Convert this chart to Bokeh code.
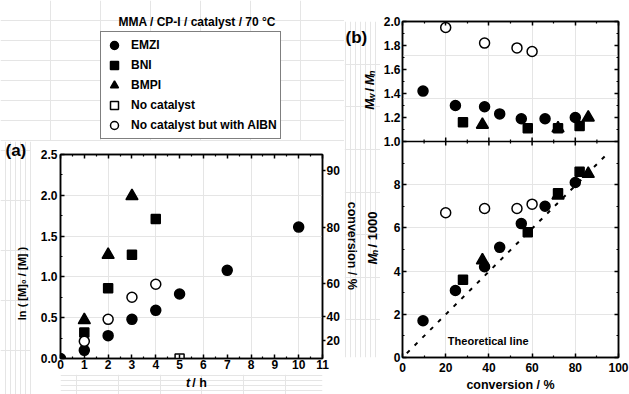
import math
from bokeh.plotting import figure
from bokeh.layouts import row, column
from bokeh.models import (Range1d, LinearAxis, FixedTicker, PrintfTickFormatter,
                          Label, Legend, LegendItem, Span)
from bokeh.embed import file_html
from bokeh.resources import INLINE

FONT = "Liberation Sans"

# ---------------- data: panel (a) kinetics ----------------
t_emzi = [0, 1, 2, 3, 4, 5, 7, 10]
ln_emzi = [0.0, 0.10, 0.28, 0.48, 0.59, 0.79, 1.08, 1.61]
t_bni = [1, 2, 3, 4]
ln_bni = [0.32, 0.86, 1.27, 1.71]
t_bmpi = [1, 2, 3]
ln_bmpi = [0.47, 1.27, 1.99]
t_nocat = [5]
ln_nocat = [0.0]
t_aibn = [1, 2, 3, 4]
ln_aibn = [0.21, 0.48, 0.75, 0.91]

# ---------------- data: panel (b) ----------------
conv_emzi = [9.5, 24.5, 38, 45, 55, 66, 80]
pdi_emzi = [1.42, 1.30, 1.29, 1.23, 1.19, 1.19, 1.20]
mn_emzi = [1.7, 3.1, 4.2, 5.1, 6.2, 7.0, 8.1]
conv_bni = [28, 58, 72, 82]
pdi_bni = [1.16, 1.11, 1.11, 1.13]
mn_bni = [3.6, 5.8, 7.6, 8.6]
conv_bmpi = [37, 72, 86]
pdi_bmpi = [1.14, 1.11, 1.20]
mn_bmpi = [4.5, 7.5, 8.5]
conv_aibn = [20, 38, 53, 60]
pdi_aibn = [1.95, 1.82, 1.78, 1.75]
mn_aibn = [6.7, 6.9, 6.9, 7.1]
theo_conv = [2, 95]
theo_mn = [0.2, 9.45]

# ---------------- ticks ----------------
a_xticks = list(range(0, 12))
a_xminor = [i + 0.5 for i in range(0, 11)]
a_yticks = [0.0, 0.5, 1.0, 1.5, 2.0, 2.5]
a_yminor = [0.25, 0.75, 1.25, 1.75, 2.25]
a_conv_ticks = [20, 40, 60, 80, 90]
b_xticks = [0, 20, 40, 60, 80, 100]
b_xminor = [10, 30, 50, 70, 90]
pdi_ticks = [1.0, 1.2, 1.4, 1.6, 1.8, 2.0]
pdi_minor = [1.1, 1.3, 1.5, 1.7, 1.9]
mn_ticks = [0, 2, 4, 6, 8]
mn_minor = [1, 3, 5, 7, 9]

legend_labels = ["EMZI", "BNI", "BMPI", "No catalyst", "No catalyst but with AIBN"]

W_B = {'M': .833, 'w': .778, 'n': .611, ' ': .278, '/': .278, '1': .556,
       '0': .556, 't': .333, 'h': .611}


def tw(s, size):
    return sum(W_B.get(ch, .556) for ch in s) * size


def base_fig(w, h, xr, yr, ml, mr, mt, mb):
    p = figure(width=w, height=h, x_range=xr, y_range=yr, output_backend="svg",
               toolbar_location=None, min_border_left=ml, min_border_right=mr,
               min_border_top=mt, min_border_bottom=mb,
               x_axis_location=None, y_axis_location=None, title_location=None)
    p.outline_line_color = "black"
    p.outline_line_width = 1.5
    p.background_fill_color = "white"
    p.border_fill_color = "white"
    return p


def text_fig(x0, x1, y0, y1):
    """A blank strip of the page, addressed in page pixels (y grows downward)."""
    p = figure(width=x1 - x0, height=y1 - y0, x_range=Range1d(x0, x1),
               y_range=Range1d(y1, y0), output_backend="svg", toolbar_location=None,
               min_border=0, x_axis_location=None, y_axis_location=None,
               title_location=None)
    p.outline_line_color = None
    p.background_fill_color = "white"
    p.border_fill_color = "white"
    return p


def add_axis(p, side, ticks, minor, labels=True, fmt=None, standoff=3,
             tick_in=4, tick_out=0, minor_in=2, overrides=None):
    ax = LinearAxis(ticker=FixedTicker(ticks=ticks, minor_ticks=minor))
    if fmt is not None:
        ax.formatter = PrintfTickFormatter(format=fmt)
    ax.axis_line_color = "black"
    ax.axis_line_width = 1.5
    ax.major_tick_line_color = "black"
    ax.major_tick_line_width = 1.5
    ax.major_tick_in = tick_in
    ax.major_tick_out = tick_out
    ax.minor_tick_line_color = "black"
    ax.minor_tick_line_width = 1.2
    ax.minor_tick_in = minor_in
    ax.minor_tick_out = 0
    ax.major_label_text_font = FONT
    ax.major_label_text_font_style = "bold"
    ax.major_label_text_font_size = "12px"
    ax.major_label_text_color = "black"
    ax.major_label_standoff = standoff
    if overrides:
        ax.major_label_overrides = overrides
    if not labels:
        ax.major_label_text_font_size = "0px"
        ax.major_label_text_color = None
        ax.major_label_standoff = 0
    p.add_layout(ax, side)
    return ax


def lab(p, x, y, text, size, style="bold", align="left", baseline="middle", angle=0.0):
    p.add_layout(Label(x=x, y=y, text=text, angle=angle, text_align=align,
                       text_baseline=baseline, text_font=FONT,
                       text_font_size=f"{size}px", text_font_style=style,
                       text_color="black"))


def compose(p, pieces, cx, cy, angle, sub=2.5):
    """Pieces of a label with italics/subscripts, on a page-pixel strip."""
    total = sum(tw(t, s) for t, s, _, _ in pieces)
    pos = -total / 2
    for text, size, style, is_sub in pieces:
        lead = len(text) - len(text.lstrip())
        trail = len(text) - len(text.rstrip())
        core = text.strip()
        pos += lead * W_B[' '] * size
        if angle == 0:
            lx, ly = cx + pos, cy + (sub if is_sub else 0)
        else:
            lx, ly = cx + (sub if is_sub else 0), cy - pos
        lab(p, lx, ly, core, size, style=style, baseline="alphabetic", angle=angle)
        pos += tw(core, size) + trail * W_B[' '] * size


def pts(p, x, y, marker, size, filled=True, **kw):
    return p.scatter(x, y, marker=marker, size=size,
                     fill_color="black" if filled else "white",
                     line_color="black", line_width=1.5, **kw)


# ================= legend / title strip (top left) =================
L0 = text_fig(0, 344, 0, 141)
# legend swatches: the panel (a) series on a scale that lies off this strip
L0.extra_x_ranges = {"off": Range1d(1000, 1344)}
lab(L0, 196.7, 21, "MMA / CP-I / catalyst / 70 °C", 12, align="center")
proxies = [pts(L0, t_emzi, ln_emzi, "circle", 10, x_range_name="off"),
           pts(L0, t_bni, ln_bni, "square", 9, x_range_name="off"),
           pts(L0, t_bmpi, ln_bmpi, "triangle", 12, x_range_name="off"),
           pts(L0, t_nocat, ln_nocat, "square", 9, False, x_range_name="off"),
           pts(L0, t_aibn, ln_aibn, "circle", 10, False, x_range_name="off")]
legend = Legend(items=[LegendItem(label=l, renderers=[r])
                       for l, r in zip(legend_labels, proxies)],
                location=(100, 2))
legend.margin = 0
legend.padding = 3
legend.spacing = 0
legend.glyph_width = 20
legend.glyph_height = 20
legend.label_height = 20
legend.label_standoff = 7
legend.label_text_font = FONT
legend.label_text_font_style = "bold"
legend.label_text_font_size = "12px"
legend.label_text_color = "black"
legend.border_line_color = "black"
legend.border_line_width = 1.5
legend.background_fill_color = "white"
legend.background_fill_alpha = 1.0
L0.add_layout(legend)

# ================= panel (a) =================
pa = base_fig(313, 233, Range1d(0, 11), Range1d(0, 2.5), 29, 22, 13, 16)
add_axis(pa, "below", a_xticks, a_xminor, standoff=1)
add_axis(pa, "left", a_yticks, a_yminor, fmt="%.1f", standoff=3)
add_axis(pa, "above", a_xticks, a_xminor, labels=False)
conv_pos = [-math.log(1 - c / 100) for c in a_conv_ticks]
add_axis(pa, "right", conv_pos, [], standoff=1, tick_in=0, tick_out=3,
         overrides={v: str(c) for v, c in zip(conv_pos, a_conv_ticks)})

pts(pa, t_emzi, ln_emzi, "circle", 10)
pts(pa, t_bni, ln_bni, "square", 9)
pts(pa, t_bmpi, ln_bmpi, "triangle", 12)
pts(pa, t_nocat, ln_nocat, "square", 9, filled=False)
pts(pa, t_aibn, ln_aibn, "circle", 10, filled=False)

# left strip of panel (a): "(a)" and the y-axis title
Sa = text_fig(0, 31, 141, 394)
lab(Sa, 5, 150, "(a)", 17)
lab(Sa, 21, 283, "ln ( [M]₀ / [M] )", 11, align="center", angle=math.pi / 2)

# bottom strip of panel (a): x-axis title
St = text_fig(31, 344, 374, 394)
compose(St, [("t", 12.5, "bold italic", False), (" / h", 12.5, "bold", False)],
        192, 382, 0)

# ================= strip between the panels =================
Sb = text_fig(344, 380, 0, 394)
lab(Sb, 345, 19, "(b)", 17)
lab(Sb, 351, 263, "conversion / %", 12.5, align="center", angle=-math.pi / 2)
compose(Sb, [("M", 13, "bold italic", False), ("w", 9, "bold italic", True),
             (" / ", 13, "bold", False), ("M", 13, "bold italic", False),
             ("n", 9, "bold italic", True)], 369, 81, math.pi / 2, sub=2)
compose(Sb, [("M", 13, "bold italic", False), ("n", 9, "bold italic", True),
             (" / 1000", 13, "bold", False)], 372, 257, math.pi / 2, sub=2)

# ================= panel (b): Mw/Mn on top of Mn, one frame =================
FRAME_H = 336          # frame height in px (21 .. 357)
MN_PX = 21.6           # px per 1000 g/mol
PDI_PX = 120.0         # px per unit of Mw/Mn
mn_top = FRAME_H / MN_PX
pdi_lo = 2.0 - FRAME_H / PDI_PX

pb = base_fig(249, 394, Range1d(0, 100), Range1d(0, mn_top), 19, 11, 21, 37)
pb.extra_y_ranges = {"pdi": Range1d(pdi_lo, 2.0)}


def pdi_on_mn(v):
    return (v - pdi_lo) * PDI_PX / MN_PX


pdi_pos = [pdi_on_mn(v) for v in pdi_ticks]
pdi_minor_pos = [pdi_on_mn(v) for v in pdi_minor]
left_ticks = mn_ticks + pdi_pos
left_minor = mn_minor + pdi_minor_pos
add_axis(pb, "left", left_ticks, left_minor, fmt="%d", standoff=2,
         overrides={v: f"{t:.1f}" for v, t in zip(pdi_pos, pdi_ticks)})
add_axis(pb, "right", left_ticks, left_minor, labels=False)
add_axis(pb, "above", b_xticks, b_xminor, labels=False)
xb = add_axis(pb, "below", b_xticks, b_xminor, standoff=5)
xb.axis_label = "conversion / %"
xb.axis_label_text_font = FONT
xb.axis_label_text_font_style = "bold"
xb.axis_label_text_font_size = "12.5px"
xb.axis_label_text_color = "black"
xb.axis_label_standoff = 3

sep = pdi_on_mn(1.0)
pb.add_layout(Span(location=sep, dimension="width", line_color="black",
                   line_width=1.5))
pb.scatter(b_xticks[1:-1], [sep] * (len(b_xticks) - 2), marker="dash",
           angle=math.pi / 2, size=8, line_color="black", line_width=1.5)
pb.scatter(b_xminor, [sep] * len(b_xminor), marker="dash",
           angle=math.pi / 2, size=4, line_color="black", line_width=1.2)

pts(pb, conv_emzi, pdi_emzi, "circle", 10, y_range_name="pdi")
pts(pb, conv_bni, pdi_bni, "square", 9, y_range_name="pdi")
pts(pb, conv_bmpi, pdi_bmpi, "triangle", 12, y_range_name="pdi")
pts(pb, conv_aibn, pdi_aibn, "circle", 10, filled=False, y_range_name="pdi")

pb.line(theo_conv, theo_mn, line_color="black", line_width=2, line_dash="4 7")
pts(pb, conv_emzi, mn_emzi, "circle", 10)
pts(pb, conv_bni, mn_bni, "square", 9)
pts(pb, conv_bmpi, mn_bmpi, "triangle", 12)
pts(pb, conv_aibn, mn_aibn, "circle", 10, filled=False)
lab(pb, 21, 0.75, "Theoretical line", 11)

layout = row(
    column(L0, row(Sa, column(pa, St))),
    Sb,
    pb,
)
open("out.html", "w").write(file_html(layout, INLINE))
